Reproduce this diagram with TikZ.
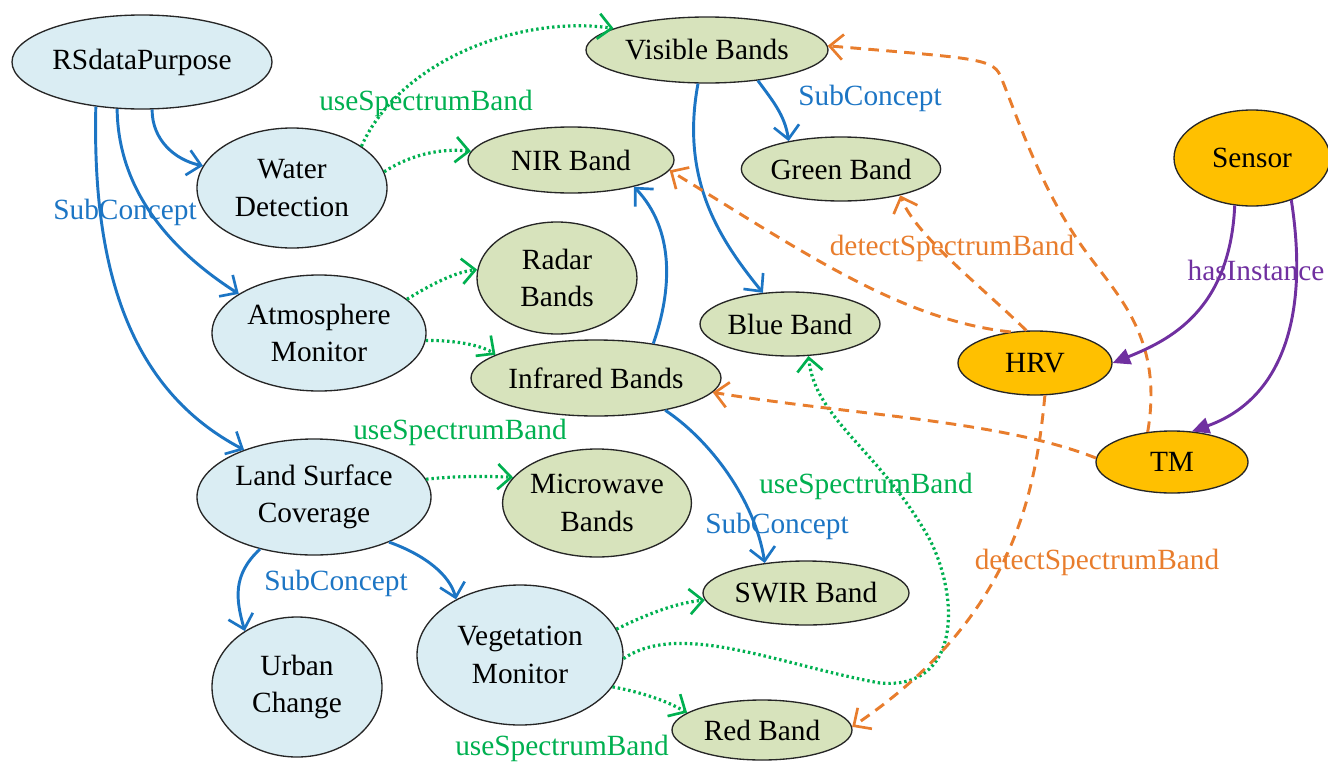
\documentclass[tikz,border=0pt]{standalone}
\usepackage{fontspec}
\setmainfont{Liberation Serif}
\usetikzlibrary{shapes.geometric,arrows.meta}

\definecolor{purposefill}{RGB}{218,237,243}
\definecolor{bandfill}{RGB}{215,227,188}
\definecolor{sensorfill}{RGB}{255,192,0}
\definecolor{subblue}{RGB}{28,117,196}
\definecolor{usegreen}{RGB}{0,176,80}
\definecolor{detorange}{RGB}{232,125,45}
\definecolor{instpurple}{RGB}{112,48,160}

\tikzset{
  concept/.style={ellipse, draw=black!85, line width=1pt, inner sep=0pt,
    align=center, font=\fontsize{22}{28}\selectfont},
  purpose/.style={concept, fill=purposefill},
  band/.style={concept, fill=bandfill},
  sensornode/.style={concept, fill=sensorfill},
  sz/.style 2 args={minimum width=#1, minimum height=#2},
  lbl/.style={inner sep=0pt, font=\fontsize{22}{28}\selectfont},
  barb/.style={-{Straight Barb[length=10pt,width=19pt,line width=2pt]}},
  subrel/.style={draw=subblue, line width=2.2pt, barb},
  userel/.style={draw=usegreen, line width=2.4pt, dash pattern=on 1.8pt off 2.2pt, barb},
  detrel/.style={draw=detorange, line width=2.2pt, dash pattern=on 8pt off 5.5pt, barb},
  instrel/.style={draw=instpurple, line width=2.2pt,
    -{Triangle[length=13pt,width=12pt]}},
}

\begin{document}
\begin{tikzpicture}[x=0.75pt,y=-0.75pt]
\useasboundingbox (0,0) rectangle (1328,764);

% purposes
\node[purpose, sz={195pt}{70.5pt}] (rs)  at (142,62)  {RSdataPurpose};
\node[purpose, sz={142.5pt}{90pt}] (wd)  at (292,188) {Water\\Detection};
\node[purpose, sz={160.5pt}{87pt}] (am)  at (319,333) {Atmosphere\\Monitor};
\node[purpose, sz={175.5pt}{87pt}] (lsc) at (314,497) {Land Surface\\Coverage};
\node[purpose, sz={127.5pt}{105pt}] (uc) at (297,687) {Urban\\Change};
\node[purpose, sz={154.5pt}{105pt}] (vm) at (520,655) {Vegetation\\Monitor};

% spectrum bands
\node[band, sz={181.5pt}{49.5pt}] (vb)   at (707,50)  {Visible Bands};
\node[band, sz={154.5pt}{49.5pt}] (nir)  at (571,160) {NIR Band};
\node[band, sz={148.5pt}{48pt}]   (gb)   at (841,169) {Green Band};
\node[band, sz={120pt}{84pt}]     (rad)  at (557,278) {Radar\\Bands};
\node[band, sz={187.5pt}{57pt}]   (ir)   at (596,378) {Infrared Bands};
\node[band, sz={135pt}{48pt}]     (bb)   at (790,324) {Blue Band};
\node[band, sz={133.5pt}{81pt}]   (mw)   at (597,503) {Microwave\\Bands};
\node[band, sz={154.5pt}{48pt}]   (swir) at (806,593) {SWIR Band};
\node[band, sz={135pt}{45pt}]     (red)  at (762,730) {Red Band};

% sensors
\node[sensornode, sz={117pt}{72pt}]   (sen) at (1252,158) {Sensor};
\node[sensornode, sz={115.5pt}{48pt}] (hrv) at (1035,363) {HRV};
\node[sensornode, sz={114pt}{46.5pt}] (tm)  at (1172,462) {TM};

% relation labels
\node[lbl, text=usegreen]   (l1)  at (426,103)  {useSpectrumBand};
\node[lbl, text=subblue]    (l2)  at (125,212)  {SubConcept};
\node[lbl, text=subblue]    (l3)  at (870,98)   {SubConcept};
\node[lbl, text=detorange]  (l4)  at (952,248)  {detectSpectrumBand};
\node[lbl, text=instpurple] (l5)  at (1256,270) {hasInstance};
\node[lbl, text=usegreen]   (l6)  at (460,432)  {useSpectrumBand};
\node[lbl, text=usegreen]   (l7)  at (866,486)  {useSpectrumBand};
\node[lbl, text=subblue]    (l8)  at (777,526)  {SubConcept};
\node[lbl, text=subblue]    (l9)  at (336,583)  {SubConcept};
\node[lbl, text=detorange]  (l10) at (1097,562) {detectSpectrumBand};
\node[lbl, text=usegreen]   (l11) at (562,748)  {useSpectrumBand};

% SubConcept
\draw[subrel] (rs.-78)  .. controls (152,140) and (175,160) .. (wd.166);
\draw[subrel] (rs.-118) .. controls (118,190) and (170,250) .. (am.154);
\draw[subrel] (rs.-136) .. controls (92,270) and (130,390) .. (lsc.146);
\draw[subrel] (vb.-31)  .. controls (772,100) and (785,115) .. (gb.152);
\draw[subrel] (vb.-105) .. controls (680,180) and (720,240) .. (bb.131);
\draw[subrel] (ir.31)   .. controls (672,290) and (675,230) .. (nir.-23);
\draw[subrel] (ir.-25)  .. controls (710,440) and (755,500) .. (swir.144);
\draw[subrel] (lsc.-136) .. controls (232,575) and (236,600) .. (uc.133);
\draw[subrel] (lsc.-31) .. controls (425,555) and (450,575) .. (vm.139);

% useSpectrumBand
\draw[userel] (wd.31)  .. controls (400,60) and (520,15) .. (vb.167);
\draw[userel] (wd.10)  .. controls (410,155) and (440,148) .. (nir.175);
\draw[userel] (am.21)  .. controls (430,285) and (455,272) .. (rad.174);
\draw[userel] (am.-4)  .. controls (460,340) and (485,347) .. (ir.167);
\draw[userel] (lsc.9)  .. controls (455,476) and (485,476) .. (mw.163);
\draw[userel] (vm.15)  .. controls (645,615) and (675,603) .. (swir.-176);
\draw[userel] (vm.-2)  .. controls (680,620) and (780,665) .. (880,683)
                       .. controls (960,690) and (960,600) .. (930,540)
                       .. controls (880,450) and (815,420) .. (bb.-60);
\draw[userel] (vm.-19) .. controls (640,692) and (665,700) .. (red.167);

% detectSpectrumBand
\draw[detrel] (hrv.128) .. controls (900,320) and (800,250) .. (nir.-6);
\draw[detrel] (hrv.105) .. controls (980,285) and (915,235) .. (gb.-24);
\draw[detrel] (tm.129)  .. controls (1165,330) and (1110,290) .. (1075,236)
                        .. controls (1035,175) and (1015,110) .. (1000,75)
                        .. controls (992,58) and (970,58) .. (vb.2);
\draw[detrel] (tm.177)  .. controls (1000,420) and (850,415) .. (ir.-7);
\draw[detrel] (hrv.-73) .. controls (1035,500) and (1010,620) .. (red.2);

% hasInstance
\draw[instrel] (sen.-110) .. controls (1230,310) and (1170,340) .. (hrv.0);
\draw[instrel] (sen.-47)  .. controls (1310,320) and (1280,400) .. (tm.57);
\end{tikzpicture}
\end{document}
